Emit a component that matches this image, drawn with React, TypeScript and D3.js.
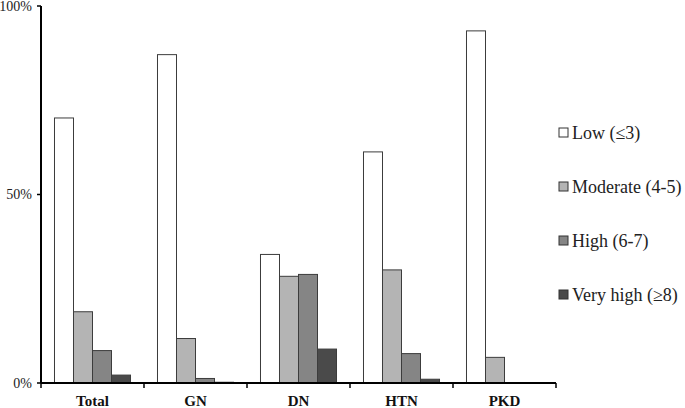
import React from 'react';
import * as d3 from 'd3';

const categories = ['Total', 'GN', 'DN', 'HTN', 'PKD'];
const seriesNames = ['Low (≤3)', 'Moderate (4-5)', 'High (6-7)', 'Very high (≥8)'];
const seriesColors = ['#ffffff', '#b4b4b4', '#858585', '#4a4a4a'];
// percentages per category, one array per series
const lowValues = [70.3, 87.1, 34.1, 61.3, 93.4];
const moderateValues = [18.9, 11.8, 28.3, 30.0, 6.8];
const highValues = [8.6, 1.2, 28.8, 7.8, 0];
const veryHighValues = [2.1, 0.2, 9.0, 1.0, 0];
const yTicks = [0, 50, 100];

const FONT = 'Liberation Serif';

const width = 685;
const height = 408;
const margin = { left: 41, right: 129, top: 6, bottom: 25 };

const App: React.FC = () => {
  const series = [lowValues, moderateValues, highValues, veryHighValues];

  const x0 = d3.scaleBand<string>()
    .domain(categories)
    .range([margin.left, width - margin.right])
    .padding(0);

  const x1 = d3.scaleBand<number>()
    .domain(d3.range(series.length))
    .range([0, x0.bandwidth()])
    .paddingOuter(0.71)
    .paddingInner(0);

  const y = d3.scaleLinear()
    .domain([0, 100])
    .range([height - margin.bottom, margin.top]);

  const baseY = y(0);
  const boundaries = categories.map(c => x0(c) ?? 0).concat([(x0(categories[categories.length - 1]) ?? 0) + x0.bandwidth()]);

  return (
    <svg width={width} height={height} style={{ position: 'absolute', left: 0, top: 0, background: '#fff' }}>
      {/* bars */}
      {categories.map((cat, ci) =>
        series.map((vals, si) => {
          const v = vals[ci];
          if (v <= 0) return null;
          return (
            <rect
              key={`${cat}-${si}`}
              x={(x0(cat) ?? 0) + (x1(si) ?? 0)}
              y={y(v)}
              width={x1.bandwidth()}
              height={baseY - y(v)}
              fill={seriesColors[si]}
              stroke="#3c3c3c"
              strokeWidth={1}
            />
          );
        })
      )}

      {/* y axis */}
      <line x1={margin.left} x2={margin.left} y1={y(100)} y2={baseY} stroke="#000" strokeWidth={2} />
      {yTicks.map(t => (
        <g key={t}>
          <line x1={margin.left - 4} x2={margin.left} y1={y(t)} y2={y(t)} stroke="#000" strokeWidth={1.5} />
          <text
            x={margin.left - 9}
            y={y(t)}
            dy="0.35em"
            textAnchor="end"
            fill="#222"
            style={{ fontFamily: FONT, fontSize: '14px' }}
          >
            {`${t}%`}
          </text>
        </g>
      ))}

      {/* x axis */}
      <line x1={margin.left} x2={width - margin.right} y1={baseY} y2={baseY} stroke="#000" strokeWidth={2} />
      {boundaries.map((bx, i) => (
        <line key={i} x1={bx} x2={bx} y1={baseY} y2={baseY + 5} stroke="#000" strokeWidth={1.5} />
      ))}
      {categories.map(cat => (
        <text
          key={cat}
          x={(x0(cat) ?? 0) + x0.bandwidth() / 2}
          y={406}
          textAnchor="middle"
          fill="#111"
          style={{ fontFamily: FONT, fontSize: '15px', fontWeight: 'bold' }}
        >
          {cat}
        </text>
      ))}

      {/* legend */}
      <g transform="translate(559,0)">
        {seriesNames.map((name, i) => {
          const cy = 133 + i * 54;
          return (
            <g key={name}>
              <rect x={0} y={cy - 5} width={9} height={9} fill={seriesColors[i]} stroke="#333" strokeWidth={1} />
              <text x={13} y={cy + 6} fill="#222" style={{ fontFamily: FONT, fontSize: '18px' }}>
                {name}
              </text>
            </g>
          );
        })}
      </g>
    </svg>
  );
};

export default App;
